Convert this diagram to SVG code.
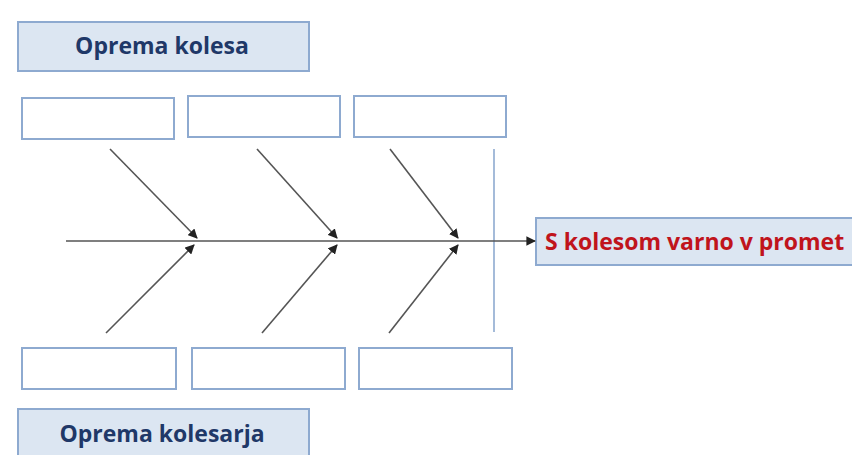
<svg xmlns="http://www.w3.org/2000/svg" width="852" height="455" viewBox="0 0 852 455">
<style>
.hdr{fill:#dce6f2;stroke:#8eaad0;stroke-width:2}
.box{fill:#ffffff;stroke:#8eaad0;stroke-width:2}
.t{font-family:"Open Sans","Liberation Sans",sans-serif;font-weight:700;font-size:23px}
.navy{fill:#1f3868}
.red{fill:#c0141c}
.bone{stroke:#555555;stroke-width:1.6;fill:none;marker-end:url(#ah)}
</style>
<defs>
<marker id="ah" viewBox="0 0 10 10" refX="9" refY="5" markerWidth="6" markerHeight="6" orient="auto" markerUnits="strokeWidth">
<path d="M0,0 L10,5 L0,10 z" fill="#222"/>
</marker>
</defs>
<rect width="852" height="455" fill="#ffffff"/>
<g id="hdr-top"><rect class="hdr" x="18" y="22" width="291" height="49"/><text class="t navy" x="162" y="54" text-anchor="middle">Oprema kolesa</text></g>
<g id="hdr-bottom"><rect class="hdr" x="18" y="409" width="291" height="60"/><text class="t navy" x="162" y="442" text-anchor="middle">Oprema kolesarja</text></g>
<g id="top1"><rect class="box" x="22" y="98" width="152" height="41"/></g>
<g id="top2"><rect class="box" x="188" y="96" width="152" height="41"/></g>
<g id="top3"><rect class="box" x="354" y="96" width="152" height="41"/></g>
<g id="bot1"><rect class="box" x="22" y="348" width="154" height="41"/></g>
<g id="bot2"><rect class="box" x="192" y="348" width="153" height="41"/></g>
<g id="bot3"><rect class="box" x="359" y="348" width="153" height="41"/></g>
<g id="effect"><rect class="hdr" x="536" y="218" width="330" height="47"/><text class="t red" x="545" y="250">S kolesom varno v promet</text></g>
<g id="connectors">
<line x1="494" y1="149" x2="494" y2="332" stroke="#8eaad0" stroke-width="1.6"/>
<line class="bone" x1="66" y1="241" x2="535" y2="241"/>
<line class="bone" x1="110" y1="149" x2="197" y2="238"/>
<line class="bone" x1="257" y1="149" x2="337" y2="238"/>
<line class="bone" x1="390" y1="149" x2="458" y2="238"/>
<line class="bone" x1="106" y1="333" x2="194" y2="245"/>
<line class="bone" x1="262" y1="333" x2="337" y2="245"/>
<line class="bone" x1="389" y1="333" x2="458" y2="245"/>
</g>
</svg>
